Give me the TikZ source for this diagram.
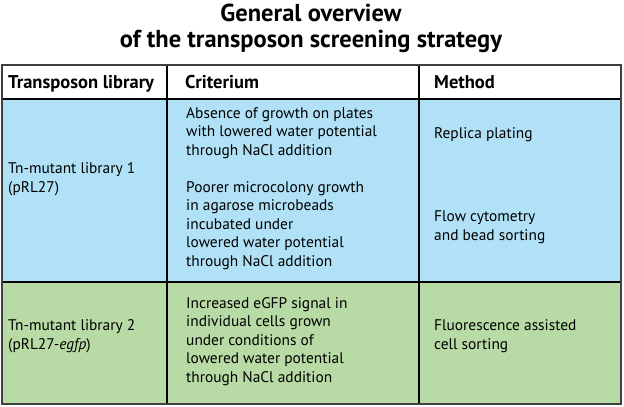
\documentclass[tikz,border=0pt]{standalone}
\usepackage{fontspec}
\setmainfont{PT Sans}
\definecolor{rowblue}{RGB}{176,225,246}
\definecolor{rowgreen}{RGB}{184,219,165}

\begin{document}
\begin{tikzpicture}[x=1pt,y=-1pt,
  cell/.style={anchor=base west,inner sep=0pt,align=left,font=\fontsize{15.4}{18.5}\selectfont},
  head/.style={anchor=base west,inner sep=0pt,font=\fontsize{18.5}{20}\selectfont\bfseries},
  ttl/.style={anchor=base,inner sep=0pt,align=center,font=\fontsize{24.5}{26}\selectfont\bfseries}]
  \useasboundingbox (0,0) rectangle (624,407);
  \path[fill=white] (0,0) rectangle (624,407);
  \path[fill=rowblue] (2,99) rectangle (621,282);
  \path[fill=rowgreen] (2,282) rectangle (621,404);
  \draw[line width=1.3pt] (2,99) -- (621,99);
  \draw[line width=1.3pt] (2,282) -- (621,282);
  \draw[line width=1.3pt] (167,65) -- (167,404);
  \draw[line width=1.3pt] (419,65) -- (419,404);
  \draw[line width=1.3pt,black!75] (2,65) rectangle (621,404);

  % title, placed by the baseline of its last line
  \node[ttl] (title) at (311,47) {General overview\\of the transposon screening strategy};

  \node[head] (hlib) at (8,88) {Transposon library};
  \node[head] (hcrit) at (185,88) {Criterium};
  \node[head] (hmeth) at (434,88) {Method};

  \node[cell] (lib1) at (8,192) {Tn-mutant library 1\\(pRL27)};
  \node[cell] (crit1a) at (186,155) {Absence of growth on plates\\with lowered water potential\\through NaCl addition};
  \node[cell] (crit1b) at (186,266) {Poorer microcolony growth\\in agarose microbeads\\incubated under\\lowered water potential\\through NaCl addition};
  \node[cell] (meth1a) at (434,138) {Replica plating};
  \node[cell] (meth1b) at (434,240) {Flow cytometry\\and bead sorting};

  \node[cell] (lib2) at (8,349) {Tn-mutant library 2\\(pRL27-\textit{egfp})};
  \node[cell] (crit2) at (186,382) {Increased eGFP signal in\\individual cells grown\\under conditions of\\lowered water potential\\through NaCl addition};
  \node[cell] (meth2) at (434,349) {Fluorescence assisted\\cell sorting};
\end{tikzpicture}
\end{document}
